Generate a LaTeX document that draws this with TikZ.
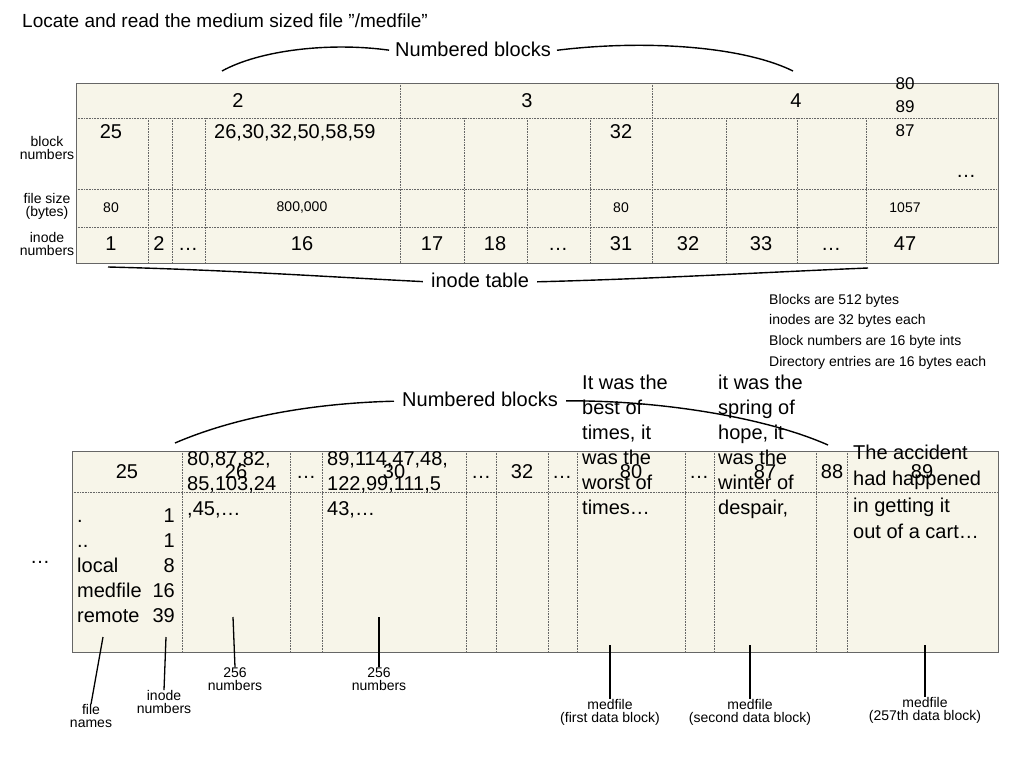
\documentclass[tikz,border=0pt]{standalone}
\usepackage{fontspec}
\setmainfont{Liberation Sans}
\definecolor{cell}{HTML}{F7F5E9}
\definecolor{frame}{HTML}{666666}
\begin{document}
\begin{tikzpicture}[x=1pt,y=-1pt,
  big/.style={font=\fontsize{20}{25}\selectfont, inner sep=0pt, text height=14.5pt, text depth=4pt},
  mid/.style={font=\fontsize{19}{19}\selectfont, inner sep=0pt},
  sm/.style={font=\fontsize{14}{13}\selectfont, inner sep=0pt, align=center},
  note/.style={font=\fontsize{14}{20.6}\selectfont, inner sep=0pt, align=left},
  grid/.style={frame, densely dotted, line width=0.6pt},
  ptr/.style={line width=1.3pt},
  arc/.style={line width=1.4pt}]
\useasboundingbox (0,0) rectangle (1024,768);
\node[mid, anchor=west] (title) at (22,21) {Locate and read the medium sized file "/medfile"};
% top table
\fill[cell] (76,83) rectangle (998,263);
\foreach \y in {118,189,227} \draw[grid] (76,\y) -- (998,\y);
\foreach \x in {148,172,205,464,527,590,726,797,866} \draw[grid] (\x,118) -- (\x,263);
\foreach \x in {400,652} \draw[grid] (\x,83) -- (\x,263);
\draw[frame, line width=0.9pt] (76,83) rectangle (998,263);
\node[big] (h2) at (238,102) {2};
\node[big] (h3) at (527,102) {3};
\node[big] (h4) at (796,102) {4};
\node[sm] (lb) at (47,148) {block\\numbers};
\node[sm] (lf) at (47,206) {file size\\(bytes)};
\node[sm] (li) at (47,244) {inode\\numbers};
\node[big] (b25) at (111,133) {25};
\node[big, anchor=west] (b26) at (214,133) {26,30,32,50,58,59};
\node[big] (b32) at (621,133) {32};
\node[font=\fontsize{17}{23.5}\selectfont, inner sep=0pt, align=center, anchor=north, text height=12pt] (b80) at (905,124) {80\\89\\87};
\node[sm] (s80) at (111,208) {80};
\node[sm] (s800) at (302,208) {800,000};
\node[sm] (s80b) at (621,208) {80};
\node[sm] (s1057) at (905,208) {1057};
\foreach \t/\x in {1/111,2/159,…/188,16/302,17/432,18/495,…/558,31/621,32/688,33/761,…/831,47/905}
  \node[big] at (\x,245) {\t};
\node[big] (dotsr) at (966,172) {…};
\node[big] (nb1) at (473,51) {Numbered blocks};
\coordinate (a1) at (222,71); \coordinate (a2) at (793,71);
\draw[arc, shorten >=6pt] (a1) .. controls (260,50) and (330,42) .. (nb1.west);
\draw[arc, shorten <=6pt] (nb1.east) .. controls (640,40) and (740,45) .. (a2);
\node[big] (it) at (480,282) {inode table};
\coordinate (c1) at (108,267); \coordinate (c2) at (868,268);
\draw[arc, shorten >=8pt] (c1) .. controls (230,270) and (330,277) .. (it.west);
\draw[arc, shorten <=8pt] (it.east) .. controls (650,279) and (770,272) .. (c2);
\node[note, anchor=north west] (notes) at (769,294) {Blocks are 512 bytes\\inodes are 32 bytes each\\Block numbers are 16 byte ints\\Directory entries are 16 bytes each};
% bottom table
\fill[cell] (72,451) rectangle (998,652);
\draw[grid] (72,492) -- (998,492);
\foreach \x in {182,290,322,466,496,548,577,685,714,816,847} \draw[grid] (\x,451) -- (\x,652);
\draw[frame, line width=0.9pt] (72,451) rectangle (998,652);
\foreach \t/\x in {25/127,26/236,…/306,30/394,…/481,32/522,…/562,80/631,…/699,87/765,88/832,89/922}
  \node[big] at (\x,473) {\t};
\node[big] (nb2) at (480,401) {Numbered blocks};
\coordinate (d1) at (175,443); \coordinate (d2) at (828,445);
\draw[arc, shorten >=8pt] (d1) .. controls (240,415) and (320,403) .. (nb2.west);
\draw[arc, shorten <=8pt] (nb2.east) .. controls (650,400) and (760,415) .. (d2);
\foreach \n/\v/\y in {./1/517,../1/542,local/8/567,medfile/16/592,remote/39/617}{
  \node[big, anchor=west] at (77,\y) {\n};
  \node[big, anchor=east] at (175,\y) {\v};}
\node[big, anchor=north west, align=left] (t26) at (187,501) {80,87,82,\\85,103,24\\,45,…};
\node[big, anchor=north west, align=left] (t30) at (327,501) {89,114,47,48,\\122,99,111,5\\43,…};
\node[big, anchor=north west, align=left] (t80) at (582,500) {It was the\\best of\\times, it\\was the\\worst of\\times…};
\node[big, anchor=north west, align=left] (t87) at (718,500) {it was the\\spring of\\hope, it\\was the\\winter of\\despair,};
\node[big, anchor=north west, align=left, font=\fontsize{20}{26.5}\selectfont] (t89) at (853,524) {The accident\\had happened\\in getting it\\out of a cart…};
\node[big] (dotsl) at (40,558) {…};
% pointers
\node[sm] (fn) at (91,716) {file\\names};
\node[sm] (inn) at (164,702) {inode\\numbers};
\node[sm] (n1) at (235,679) {256\\numbers};
\node[sm] (n2) at (379,679) {256\\numbers};
\node[sm] (m1) at (610,712) {medfile\\(first data block)};
\node[sm] (m2) at (750,712) {medfile\\(second data block)};
\node[sm] (m3) at (925,710) {medfile\\(257th data block)};
\coordinate (p1) at (103,637); \coordinate (p2) at (166,637);
\coordinate (p3) at (233,617); \coordinate (p4) at (379,617);
\coordinate (p5) at (610,645); \coordinate (p6) at (750,645); \coordinate (p7) at (925,645);
\draw[ptr] (p1) -- (fn.north);
\draw[ptr] (p2) -- (inn.north);
\draw[ptr] (p3) -- (n1.north);
\draw[ptr] (p4) -- (n2.north);
\draw[ptr] (p5) -- (m1.north);
\draw[ptr] (p6) -- (m2.north);
\draw[ptr] (p7) -- (m3.north);
\end{tikzpicture}
\end{document}
